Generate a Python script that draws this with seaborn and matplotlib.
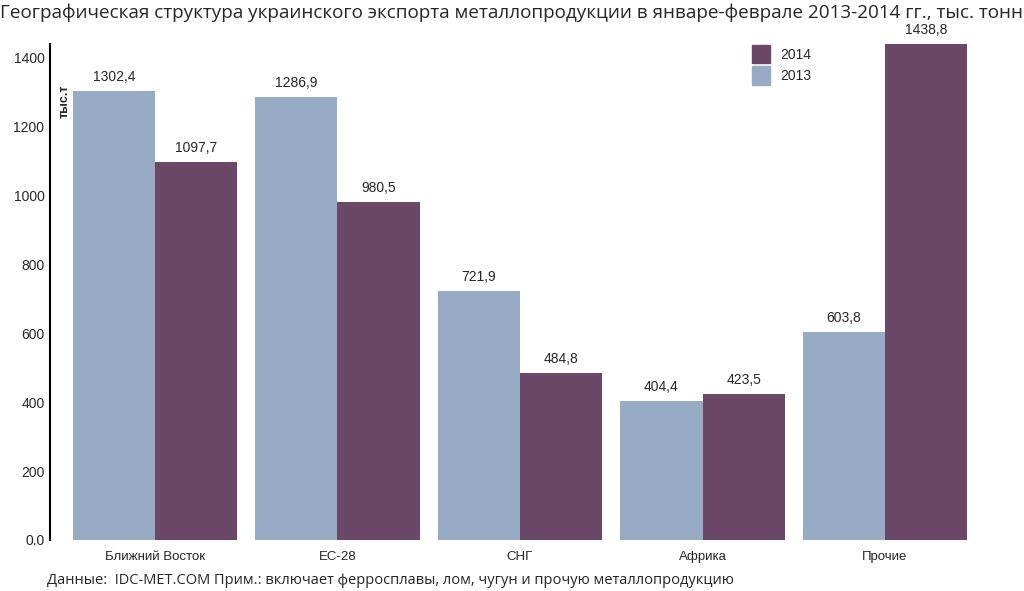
import pandas as pd
import seaborn as sns
import matplotlib.pyplot as plt
from matplotlib.patches import Patch

# --- Данные ---
regions = ["Ближний Восток", "ЕС-28", "СНГ", "Африка", "Прочие"]
vals_2013 = [1302.4, 1286.9, 721.9, 404.4, 603.8]
vals_2014 = [1097.7, 980.5, 484.8, 423.5, 1438.8]
years = ["2013", "2014"]
y_ticks = [0, 200, 400, 600, 800, 1000, 1200, 1400]
tick_labels = ["0.0", "200", "400", "600", "800", "1000", "1200", "1400"]

col_2013 = "#98abc5"
col_2014 = "#6b4768"

df = pd.DataFrame({
    "region": regions * 2,
    "year": ["2013"] * len(regions) + ["2014"] * len(regions),
    "value": vals_2013 + vals_2014,
})

sns.set_style("white")
plt.rcParams["font.family"] = ["Open Sans", "DejaVu Sans"]
arial = ["Liberation Sans", "DejaVu Sans"]

fig = plt.figure(figsize=(10.24, 5.91), dpi=100)
ax = fig.add_axes([0.0488, 0.0863, 0.918, 0.8392])

sns.barplot(data=df, x="region", y="value", hue="year", order=regions,
            hue_order=years, palette=[col_2013, col_2014], width=0.9,
            saturation=1, linewidth=0, ax=ax, legend=False)

# подписи значений
for cont in ax.containers:
    labels = [f"{b.get_height():.1f}".replace(".", ",") for b in cont]
    ax.bar_label(cont, labels=labels, padding=5, fontsize=10, family=arial)

ax.set_xlim(-0.575, 4.575)
ax.set_ylim(0, 1440)
ax.set_yticks(y_ticks)
ax.set_yticklabels(tick_labels, fontsize=10, family=arial)
ax.set_xticks(range(len(regions)))
ax.set_xticklabels(regions, fontsize=9.5, family=arial)
ax.tick_params(axis="both", length=0, pad=8)
ax.tick_params(axis="y", pad=4)
ax.set_xlabel("")
ax.set_ylabel("")

for s in ["top", "right", "bottom"]:
    ax.spines[s].set_visible(False)
ax.spines["left"].set_color("black")
ax.spines["left"].set_linewidth(1.5)

ax.text(0.016, 0.885, "тыс.т", transform=ax.transAxes, rotation=90,
        fontsize=9, fontweight="bold", va="center", ha="center", family=arial)

handles = [Patch(color=col_2014, label="2014"), Patch(color=col_2013, label="2013")]
ax.legend(handles=handles, loc="upper left", bbox_to_anchor=(0.733, 1.024),
          frameon=False, handlelength=1.3, handleheight=1.7,
          handletextpad=0.8, labelspacing=0.2,
          prop={"family": arial, "size": 10})

fig.text(0.0, 0.978,
         "Географическая структура украинского экспорта металлопродукции в январе-феврале 2013-2014 гг., тыс. тонн",
         fontsize=13.6, ha="left", va="center")
fig.text(0.046, 0.018,
         "Данные:  IDC-MET.COM Прим.: включает ферросплавы, лом, чугун и прочую металлопродукцию",
         fontsize=10.5, ha="left", va="center")

fig.savefig("out.png", dpi=100)
